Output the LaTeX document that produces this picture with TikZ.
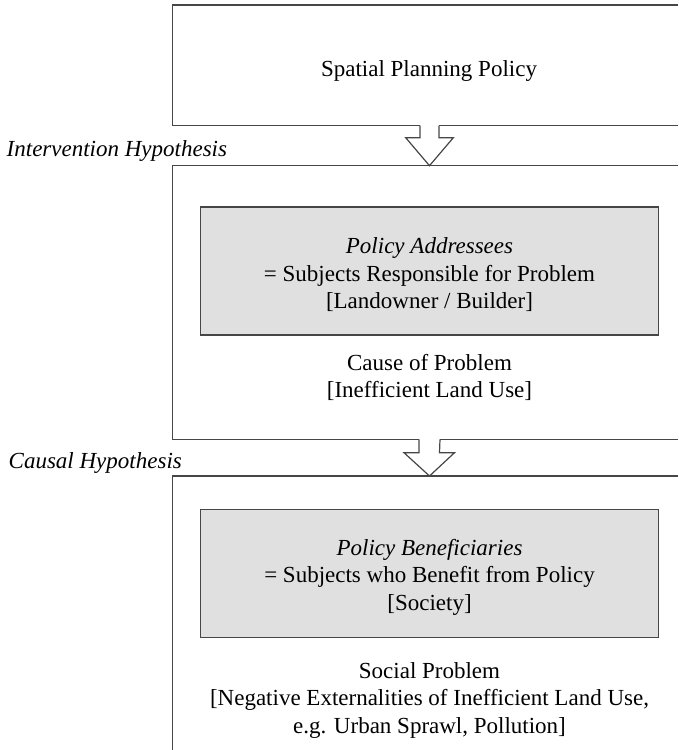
\documentclass[tikz,border=0pt]{standalone}
\usepackage{fontspec}
\setmainfont{Liberation Serif}
\definecolor{boxfill}{RGB}{224,224,224}
\definecolor{edge}{RGB}{70,70,70}
\tikzset{
  frame/.style={draw=edge, line width=1.2pt},
  inbox/.style={draw=edge, line width=1.3pt, fill=boxfill, inner sep=0pt,
    minimum width=457.6pt, minimum height=128pt},
  txt/.style={inner sep=0pt, align=center,
    font=\fontsize{23}{27.5}\selectfont},
  hyp/.style={inner sep=0pt, anchor=base west,
    font=\fontsize{23}{27.5}\selectfont\itshape},
  blockarrow/.style={draw=edge, line width=1.2pt, fill=white, line join=miter}
}
\begin{document}
\begin{tikzpicture}[x=1pt,y=-1pt]
\useasboundingbox (0,0) rectangle (678,750);
\clip (0,0) rectangle (678,750);

% outer frames, open to the right
\draw[frame] (678,5) -- (172.5,5) -- (172.5,125.7) -- (420,125.7);
\draw[frame] (439,125.7) -- (678,125.7);
\draw[frame] (678,165.7) -- (172.5,165.7) -- (172.5,439.3) -- (419,439.3);
\draw[frame] (440,439.3) -- (678,439.3);
\draw[frame] (678,476) -- (172.5,476) -- (172.5,752);

% anchor points of the block arrows
\coordinate (a1top) at (429.5,125.7);
\coordinate (a1tip) at (429.5,165.7);
\coordinate (a2top) at (429.5,439.3);
\coordinate (a2tip) at (429.5,476);

% hollow block arrows between the frames (open at the stem top)
\draw[blockarrow] ([xshift=-9.5pt]a1top) -- ++(0,12) -- ++(-14.3,0)
  -- (a1tip) -- ([xshift=23.8pt,yshift=-12pt]a1top) -- ++(-14.3,0) -- ([xshift=9.5pt]a1top);
\draw[blockarrow] ([xshift=-10.5pt]a2top) -- ++(0,13.4) -- ++(-15,0)
  -- (a2tip) -- ([xshift=25pt,yshift=-13.4pt]a2top) -- ++(-15,0) -- ([xshift=10.5pt]a2top);

% texts and inner boxes
\node[txt] (policy) at (429,71) {Spatial Planning Policy};

\node[hyp] (intervention) at (6.5,156.7) {Intervention Hypothesis};

\node[inbox] (addr) at (429.5,271) {};
\node[txt] (addrtxt) at (429.5,275) {\textit{Policy Addressees}\\= Subjects Responsible for Problem\\{}[Landowner / Builder]};

\node[txt] (cause) at (429.5,377.5) {Cause of Problem\\{}[Inefficient Land Use]};

\node[hyp] (causal) at (8.5,468.3) {Causal Hypothesis};

\node[inbox] (benef) at (429.5,573.2) {};
\node[txt] (beneftxt) at (429.5,577) {\textit{Policy Beneficiaries}\\= Subjects who Benefit from Policy\\{}[Society]};

\node[txt] (social) at (429.5,700.3) {Social Problem\\{}[Negative Externalities of Inefficient Land Use,\\e.g. Urban Sprawl, Pollution]};
\end{tikzpicture}
\end{document}
